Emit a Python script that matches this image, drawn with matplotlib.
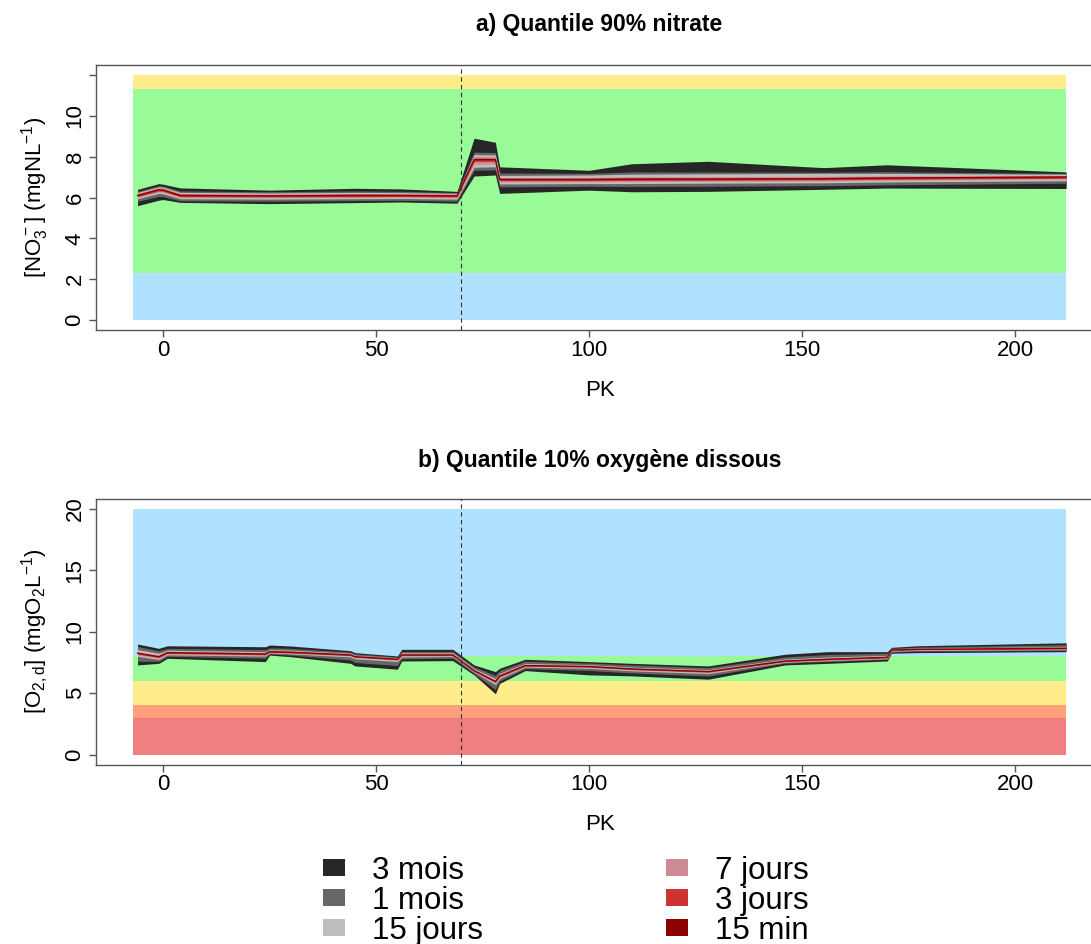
import matplotlib
matplotlib.use('Agg')
import matplotlib.pyplot as plt
from matplotlib.patches import Patch

plt.rcParams['font.family'] = 'Liberation Sans'
plt.rcParams['mathtext.default'] = 'regular'

# Aggregation windows (widest first)
win_labels = ['3 mois', '1 mois', '15 jours', '7 jours', '3 jours', '15 min']
win_colors = ['#262626', '#666666', '#BEBEBE', '#CD8C95', '#CD3333', '#8B0000']

# Quality classes (background bands)
band_x = [-7, 212]
zone_a_lo = [0, 2.3, 11.3]
zone_a_hi = [2.3, 11.3, 12]
zone_a_col = ['#B0E2FF', '#98FB98', '#FFEC8B']
zone_b_lo = [0, 3, 4, 6, 8]
zone_b_hi = [3, 4, 6, 8, 20]
zone_b_col = ['#F08080', '#FFA07A', '#FFEC8B', '#98FB98', '#B0E2FF']

# a) Quantile 90% nitrate
pk_a = [-6, -1, 0, 4, 25, 45, 56, 69, 73, 78, 79, 100, 110, 128, 155, 170, 212]
a_15min = [6.10, 6.38, 6.36, 6.10, 6.08, 6.10, 6.10, 6.08, 7.85, 7.85, 6.88, 6.88, 6.90, 6.90, 6.92, 6.95, 7.00]
a_3j_hi = [6.16, 6.44, 6.42, 6.16, 6.13, 6.16, 6.15, 6.13, 7.93, 7.92, 6.94, 6.94, 6.96, 6.96, 6.98, 7.01, 7.05]
a_3j_lo = [6.04, 6.32, 6.30, 6.04, 6.03, 6.04, 6.05, 6.03, 7.76, 7.77, 6.82, 6.82, 6.83, 6.84, 6.86, 6.89, 6.94]
a_7j_hi = [6.20, 6.48, 6.46, 6.20, 6.17, 6.20, 6.19, 6.17, 8.02, 8.00, 6.98, 6.99, 7.02, 7.02, 7.04, 7.06, 7.08]
a_7j_lo = [6.00, 6.28, 6.26, 6.00, 5.99, 6.00, 6.01, 5.99, 7.62, 7.65, 6.76, 6.77, 6.78, 6.79, 6.81, 6.84, 6.90]
a_15j_hi = [6.25, 6.52, 6.50, 6.25, 6.22, 6.25, 6.24, 6.20, 8.10, 8.08, 7.08, 7.10, 7.14, 7.16, 7.18, 7.18, 7.14]
a_15j_lo = [5.94, 6.20, 6.18, 5.94, 5.92, 5.94, 5.95, 5.92, 7.48, 7.50, 6.66, 6.68, 6.68, 6.70, 6.72, 6.76, 6.82]
a_1m_hi = [6.30, 6.58, 6.56, 6.32, 6.28, 6.32, 6.30, 6.24, 8.22, 8.20, 7.20, 7.18, 7.25, 7.25, 7.24, 7.26, 7.18]
a_1m_lo = [5.82, 6.05, 6.04, 5.84, 5.82, 5.85, 5.86, 5.82, 7.33, 7.35, 6.52, 6.55, 6.54, 6.55, 6.58, 6.62, 6.70]
a_3m_hi = [6.40, 6.68, 6.65, 6.47, 6.36, 6.45, 6.42, 6.30, 8.90, 8.70, 7.50, 7.33, 7.65, 7.77, 7.46, 7.60, 7.25]
a_3m_lo = [5.60, 5.87, 5.90, 5.76, 5.70, 5.75, 5.78, 5.72, 7.05, 7.10, 6.20, 6.36, 6.28, 6.30, 6.40, 6.46, 6.44]

# b) Quantile 10% oxygene dissous
pk_b = [-6, -1, 1, 24, 25, 30, 44, 45, 55, 56, 68, 73, 78, 79, 85, 100, 110, 128, 146, 156, 170, 171, 177, 212]
b_15min = [8.25, 7.97, 8.30, 8.19, 8.38, 8.33, 8.11, 7.97, 7.76, 8.11, 8.11, 6.84, 5.95, 6.40, 7.25, 7.17, 6.97, 6.76, 7.62, 7.76, 7.92, 8.51, 8.57, 8.65]
b_3j_hi = [8.32, 8.04, 8.36, 8.25, 8.43, 8.38, 8.15, 8.01, 7.80, 8.15, 8.15, 6.89, 6.01, 6.46, 7.30, 7.21, 7.01, 6.80, 7.66, 7.80, 7.96, 8.54, 8.60, 8.69]
b_3j_lo = [8.18, 7.90, 8.24, 8.13, 8.33, 8.28, 8.07, 7.93, 7.72, 8.07, 8.07, 6.79, 5.89, 6.34, 7.20, 7.13, 6.93, 6.72, 7.58, 7.72, 7.88, 8.48, 8.54, 8.61]
b_7j_hi = [8.40, 8.10, 8.42, 8.30, 8.48, 8.43, 8.19, 8.05, 7.83, 8.20, 8.20, 6.93, 6.08, 6.52, 7.34, 7.25, 7.05, 6.84, 7.70, 7.85, 8.00, 8.56, 8.63, 8.72]
b_7j_lo = [8.10, 7.85, 8.18, 8.08, 8.30, 8.25, 8.03, 7.90, 7.69, 8.02, 8.03, 6.76, 5.82, 6.28, 7.17, 7.09, 6.89, 6.68, 7.55, 7.69, 7.85, 8.46, 8.52, 8.58]
b_15j_hi = [8.55, 8.25, 8.50, 8.38, 8.55, 8.50, 8.25, 8.10, 7.88, 8.28, 8.28, 7.00, 6.20, 6.62, 7.42, 7.32, 7.12, 6.92, 7.78, 7.94, 8.08, 8.60, 8.68, 8.78]
b_15j_lo = [8.00, 7.75, 8.12, 8.02, 8.28, 8.20, 7.95, 7.80, 7.58, 7.95, 7.98, 6.72, 5.70, 6.20, 7.12, 7.02, 6.82, 6.60, 7.52, 7.65, 7.82, 8.42, 8.48, 8.55]
b_1m_hi = [8.80, 8.45, 8.65, 8.55, 8.70, 8.65, 8.35, 8.20, 7.95, 8.40, 8.40, 7.15, 6.45, 6.85, 7.60, 7.45, 7.30, 7.08, 7.95, 8.15, 8.25, 8.65, 8.75, 8.95]
b_1m_lo = [7.60, 7.60, 8.00, 7.85, 8.20, 8.10, 7.70, 7.50, 7.25, 7.80, 7.85, 6.60, 5.30, 6.00, 7.00, 6.85, 6.65, 6.40, 7.45, 7.58, 7.75, 8.35, 8.42, 8.48]
b_3m_hi = [9.00, 8.65, 8.86, 8.78, 8.92, 8.84, 8.46, 8.30, 8.03, 8.57, 8.57, 7.30, 6.76, 7.03, 7.76, 7.57, 7.43, 7.22, 8.17, 8.38, 8.38, 8.73, 8.86, 9.10]
b_3m_lo = [7.30, 7.43, 7.84, 7.57, 8.10, 7.97, 7.43, 7.22, 6.95, 7.62, 7.65, 6.49, 4.95, 5.80, 6.84, 6.49, 6.41, 6.14, 7.30, 7.43, 7.62, 8.25, 8.30, 8.38]

pk_limit = 70  # dashed vertical marker

W, H = 1091, 944
fig = plt.figure(figsize=(W / 100, H / 100), dpi=100)


def px_axes(left, top, right, bottom):
    return fig.add_axes([left / W, 1 - bottom / H, (right - left) / W, (bottom - top) / H])


axA = px_axes(96, 65, 1103.5, 330)
axB = px_axes(96, 499, 1103.5, 764.5)

tickFontSize = 16
axisColor = '#555555'


def draw_panel(ax, zlo, zhi, zcol, pk, envelopes, line15):
    for lo, hi, c in zip(zlo, zhi, zcol):
        ax.fill_between(band_x, [lo, lo], [hi, hi], color=c, lw=0, zorder=1)
    for (lo, hi), c in zip(envelopes, win_colors[:5]):
        ax.fill_between(pk, lo, hi, color=c, lw=0, zorder=2)
    ax.plot(pk, line15, color=win_colors[5], lw=1.0, zorder=3)
    ax.axvline(pk_limit, color='#333333', lw=0.8, ls=(0, (4, 3)), zorder=4)
    ax.set_xlim(-15.76, 220.76)
    ax.set_xticks([0, 50, 100, 150, 200])
    for sp in ax.spines.values():
        sp.set_color(axisColor)
        sp.set_linewidth(1)
    ax.tick_params(axis='both', length=5, width=1, color=axisColor, labelsize=tickFontSize)
    ax.tick_params(axis='x', pad=2)
    ax.tick_params(axis='y', pad=2.5, labelrotation=90)
    ax.set_xlabel('PK', fontsize=tickFontSize)
    ax.xaxis.set_label_coords(0.5, -60 / 265)
    ax.xaxis.label.set_va('center')


draw_panel(axA, zone_a_lo, zone_a_hi, zone_a_col, pk_a,
           [(a_3m_lo, a_3m_hi), (a_1m_lo, a_1m_hi), (a_15j_lo, a_15j_hi),
            (a_7j_lo, a_7j_hi), (a_3j_lo, a_3j_hi)], a_15min)
axA.set_ylim(-0.48, 12.48)
axA.set_yticks([0, 2, 4, 6, 8, 10, 12])
axA.set_yticklabels(['0', '2', '4', '6', '8', '10', ''])
for lbl in axA.get_yticklabels():
    lbl.set_va('center')
axA.set_ylabel(r'[NO$_3^-$] (mgNL$^{-1}$)', fontsize=tickFontSize, labelpad=10)

draw_panel(axB, zone_b_lo, zone_b_hi, zone_b_col, pk_b,
           [(b_3m_lo, b_3m_hi), (b_1m_lo, b_1m_hi), (b_15j_lo, b_15j_hi),
            (b_7j_lo, b_7j_hi), (b_3j_lo, b_3j_hi)], b_15min)
axB.set_ylim(-0.8, 20.8)
axB.set_yticks([0, 5, 10, 15, 20])
for lbl in axB.get_yticklabels():
    lbl.set_va('center')
axB.set_ylabel(r'[O$_{2,d}$] (mgO$_2$L$^{-1}$)', fontsize=tickFontSize, labelpad=10)

# Titles
fig.text(599.5 / W, 1 - 25 / H, 'a) Quantile 90% nitrate', ha='center', va='center',
         fontsize=16.5, fontweight='bold')
fig.text(599.5 / W, 1 - 460 / H, 'b) Quantile 10% oxygène dissous', ha='center', va='center',
         fontsize=16.5, fontweight='bold')

# Legend
handles = [Patch(facecolor=c, edgecolor='none') for c in win_colors]
fig.legend(handles, win_labels, ncol=2, loc='upper left',
           bbox_to_anchor=(323 / W, 1 - 856 / H), frameon=False,
           fontsize=22.5, handlelength=0.70, handleheight=0.45, handletextpad=0.86,
           labelspacing=0.0, columnspacing=5.86, borderpad=0, borderaxespad=0)

fig.savefig('out.png', dpi=100)
